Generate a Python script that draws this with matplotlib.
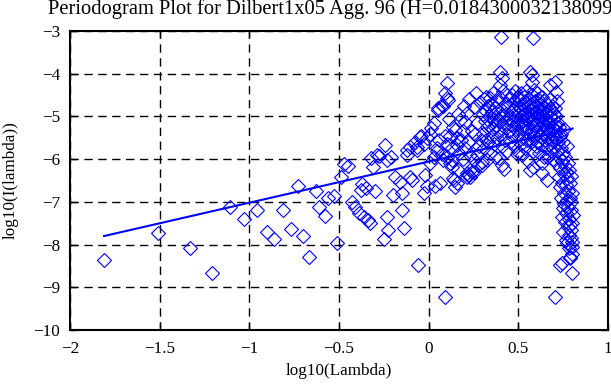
import matplotlib
matplotlib.use("Agg")
import matplotlib.pyplot as plt
import numpy as np

plt.rcParams["font.family"] = ["Liberation Serif", "DejaVu Serif"]
plt.rcParams["font.size"] = 12.3

# low frequencies (sparse)
x_low = [-1.81, -1.51, -1.33, -1.21, -1.11, -1.03, -0.96, -0.90, -0.86, -0.81,
         -0.77, -0.73, -0.70, -0.67, -0.63, -0.61, -0.58, -0.56, -0.53, -0.51,
         -0.49, -0.47, -0.45, -0.43, -0.41, -0.39, -0.38, -0.37, -0.36, -0.35,
         -0.34, -0.33, -0.32, -0.31]
y_low = [-8.35, -7.74, -8.07, -8.66, -7.11, -7.40, -7.19, -7.71, -7.88, -7.19,
         -7.64, -6.63, -7.80, -8.30, -6.75, -7.11, -7.33, -6.90, -6.86, -7.96,
         -6.43, -6.11, -6.16, -7.00, -7.11, -7.27, -6.72, -6.58, -7.36, -6.68,
         -7.43, -7.49, -5.98, -6.19]

# middle frequencies
x_mid = [-0.30, -0.29, -0.275, -0.25, -0.243, -0.234, -0.23, -0.225, -0.21, -0.197,
         -0.187, -0.16, -0.15, -0.15, -0.14, -0.122, -0.119, -0.104, -0.104, -0.095,
         -0.076, -0.067, -0.063, -0.057, -0.048, -0.044, -0.029, -0.026, -0.02, -0.011,
         -0.011, 0.008, 0.008, 0.015, 0.027, 0.03, 0.036, 0.045, 0.045, 0.049,
         0.054, 0.06, 0.064, 0.073, 0.073, 0.082, 0.082, 0.088, 0.091, 0.091,
         0.10, 0.101, 0.101, 0.101, 0.11, 0.115, 0.12, 0.12, 0.129, 0.13,
         0.13, 0.138, 0.138, 0.14, 0.147, 0.147, 0.157, 0.157, 0.16, 0.165,
         0.166, 0.17, 0.175, 0.18, 0.19, 0.19, 0.195, 0.20, 0.203, 0.212,
         0.212, 0.212, 0.22, 0.22, 0.225, 0.23, 0.23, 0.231, 0.24, 0.24,
         0.25, 0.25, 0.25, 0.26, 0.265, 0.27, 0.27, 0.277, 0.28, 0.287,
         0.29, 0.296, 0.296]
y_mid = [-6.74, -5.90, -5.93, -7.86, -5.67, -6.02, -7.35, -7.66, -5.96, -6.84,
         -6.43, -6.53, -6.79, -7.18, -7.62, -5.90, -5.79, -5.71, -6.41, -6.49,
         -5.60, -5.79, -5.72, -8.48, -5.49, -5.46, -6.79, -5.65, -6.37, -6.63,
         -5.51, -5.40, -6.10, -5.28, -5.94, -5.16, -6.63, -5.80, -5.75, -4.81,
         -4.85, -5.55, -6.57, -4.73, -5.87, -6.02, -4.76, -9.22, -5.47, -4.46,
         -5.65, -4.22, -4.58, -5.94, -4.62, -5.05, -5.47, -6.10, -6.18, -6.02,
         -5.75, -5.24, -6.45, -6.49, -5.32, -6.65, -5.67, -6.57, -5.50, -4.95,
         -6.26, -5.85, -5.08, -5.55, -5.35, -6.00, -4.75, -5.75, -5.12, -4.93,
         -6.33, -6.41, -6.37, -5.60, -4.60, -6.26, -5.90, -6.41, -6.29, -5.35,
         -4.77, -6.02, -6.29, -5.40, -4.45, -5.15, -5.90, -6.14, -5.70, -4.66,
         -5.55, -6.06, -6.14]

# high frequencies (dense cloud)
x_high = [0.300, 0.303, 0.306, 0.309, 0.312, 0.315, 0.318, 0.321, 0.324, 0.327,
          0.330, 0.333, 0.336, 0.339, 0.342, 0.345, 0.348, 0.351, 0.354, 0.357,
          0.360, 0.363, 0.366, 0.369, 0.372, 0.375, 0.378, 0.381, 0.384, 0.387,
          0.390, 0.393, 0.396, 0.398, 0.400, 0.402, 0.404, 0.406, 0.407, 0.409,
          0.410, 0.412, 0.415, 0.417, 0.420, 0.423, 0.426, 0.429, 0.432, 0.435,
          0.438, 0.441, 0.444, 0.447, 0.450, 0.453, 0.456, 0.459, 0.462, 0.465,
          0.468, 0.471, 0.474, 0.477, 0.480, 0.483, 0.486, 0.489, 0.491, 0.494,
          0.497, 0.500, 0.502, 0.504, 0.506, 0.508, 0.510, 0.512, 0.514, 0.516,
          0.518, 0.520, 0.522, 0.524, 0.526, 0.528, 0.530, 0.532, 0.534, 0.536,
          0.538, 0.540, 0.542, 0.544, 0.546, 0.548, 0.550, 0.552, 0.554, 0.556,
          0.558, 0.560, 0.562, 0.564, 0.566, 0.566, 0.568, 0.570, 0.572, 0.575,
          0.575, 0.576, 0.578, 0.579, 0.580, 0.582, 0.584, 0.584, 0.586, 0.588,
          0.590, 0.592, 0.594, 0.596, 0.598, 0.600, 0.602, 0.603, 0.605, 0.607,
          0.609, 0.611, 0.613, 0.615, 0.617, 0.619, 0.621, 0.623, 0.625, 0.627,
          0.629, 0.630, 0.631, 0.633, 0.635, 0.637, 0.639, 0.640, 0.642, 0.644,
          0.646, 0.648, 0.650, 0.652, 0.654, 0.656, 0.658, 0.660, 0.660, 0.662,
          0.664, 0.666, 0.668, 0.670, 0.672, 0.674, 0.676, 0.677, 0.679, 0.681,
          0.683, 0.685, 0.687, 0.689, 0.691, 0.693, 0.695, 0.697, 0.699, 0.701,
          0.703, 0.705, 0.705, 0.707, 0.709, 0.710, 0.712, 0.714, 0.716, 0.718,
          0.720]
y_high = [-4.95, -5.40, -4.60, -5.75, -5.10, -4.85, -5.55, -4.54, -6.02, -5.25,
          -4.75, -5.60, -5.00, -4.58, -5.85, -5.15, -4.70, -5.45, -4.90, -5.30,
          -4.45, -5.65, -5.05, -4.80, -5.95, -5.20, -4.65, -5.50, -4.95, -5.35,
          -5.98, -4.55, -5.10, -3.95, -4.26, -5.40, -3.13, -4.85, -4.11, -5.70,
          -6.14, -5.00, -4.40, -6.22, -5.25, -4.70, -5.55, -4.95, -5.15, -4.50,
          -5.80, -5.05, -4.75, -5.35, -4.60, -5.60, -4.90, -5.20, -4.50, -5.45,
          -4.85, -5.10, -4.65, -5.70, -5.00, -4.40, -5.30, -4.80, -5.87, -5.15,
          -4.55, -5.83, -4.95, -5.40, -4.60, -5.15, -4.80, -5.65, -5.00, -4.45,
          -5.30, -4.70, -5.90, -5.10, -4.85, -5.50, -4.55, -5.20, -4.95, -5.75,
          -4.65, -5.35, -5.05, -4.40, -5.55, -4.90, -5.25, -4.75, -6.05, -5.00,
          -4.60, -5.40, -4.85, -5.15, -3.95, -6.26, -4.70, -5.60, -4.95, -4.19,
          -4.03, -5.30, -4.50, -3.16, -5.80, -4.80, -5.10, -6.18, -4.37, -5.45,
          -4.90, -5.20, -4.65, -5.70, -5.00, -4.75, -5.35, -4.46, -5.60, -4.95,
          -5.15, -4.60, -5.85, -5.05, -4.80, -5.45, -5.25, -4.70, -5.65, -4.90,
          -5.10, -6.10, -6.33, -4.55, -5.40, -5.00, -4.85, -5.94, -5.20, -4.65,
          -5.55, -5.05, -4.80, -5.75, -5.30, -4.95, -5.50, -5.94, -6.49, -4.70,
          -5.15, -5.40, -4.90, -5.65, -5.10, -4.60, -5.35, -4.26, -5.00, -5.80,
          -4.85, -5.25, -5.55, -4.75, -5.05, -5.45, -6.00, -4.95, -5.30, -5.70,
          -4.80, -4.19, -5.20, -5.50, -6.10, -4.42, -5.00, -5.35, -4.65, -5.80,
          -5.15]

# highest frequencies (falling tail)
x_tail = [0.722, 0.724, 0.726, 0.728, 0.730, 0.731, 0.733, 0.734, 0.736, 0.738,
          0.740, 0.742, 0.742, 0.743, 0.745, 0.746, 0.748, 0.750, 0.751, 0.752,
          0.754, 0.755, 0.757, 0.758, 0.760, 0.761, 0.763, 0.764, 0.766, 0.767,
          0.769, 0.770, 0.771, 0.773, 0.774, 0.776, 0.777, 0.779, 0.780, 0.781,
          0.783, 0.784, 0.786, 0.787, 0.788, 0.789, 0.790, 0.791, 0.793, 0.794,
          0.795, 0.796, 0.797, 0.798, 0.799, 0.800, 0.800, 0.801, 0.802, 0.705]
y_tail = [-5.60, -6.41, -5.25, -5.95, -6.65, -5.45, -8.48, -6.20, -5.75, -6.90,
          -5.40, -7.35, -8.44, -6.05, -6.55, -5.60, -7.15, -5.85, -7.70, -6.35,
          -6.80, -5.30, -7.05, -6.15, -7.47, -5.95, -6.60, -7.90, -6.30, -7.25,
          -5.70, -6.96, -7.97, -6.45, -7.60, -6.10, -7.11, -6.75, -8.09, -7.40,
          -6.25, -7.78, -6.90, -7.55, -8.28, -6.55, -8.32, -7.20, -7.85, -6.40,
          -7.65, -7.00, -8.05, -8.66, -7.50, -6.80, -7.95, -8.21, -7.30, -9.22]

H = 0.0184300032138099
fit_intercept = -6.057

x_all = np.array(x_low + x_mid + x_high + x_tail)
y_all = np.array(y_low + y_mid + y_high + y_tail)

fig = plt.figure(figsize=(6.11, 3.85), dpi=100)
ax = fig.add_axes([0.1146, 0.1429, 0.8806, 0.7766])

ax.plot(x_all, y_all, linestyle="none", marker="D", markersize=7,
        markerfacecolor="none", markeredgecolor="blue", markeredgewidth=0.8)

fit_x = np.array([x_all.min(), x_all.max()])
fit_y = fit_intercept + (1 - 2 * H) * fit_x
ax.plot(fit_x, fit_y, color="blue", linewidth=1.5)

ax.set_xlim(-2, 1)
ax.set_ylim(-10, -3)
ax.set_xticks([-2, -1.5, -1, -0.5, 0, 0.5, 1])
ax.set_xticklabels(["\u22122", "\u22121.5", "\u22121", "\u22120.5", "0", "0.5", "1"])
ax.set_yticks(range(-10, -2))
ax.grid(True, color="black", linestyle=(0, (6, 4)), linewidth=1)
ax.set_axisbelow(True)
ax.tick_params(direction="in", top=True, right=True, length=5, width=1)
ax.tick_params(axis="x", pad=8)
ax.tick_params(axis="y", pad=7)
for s in ax.spines.values():
    s.set_linewidth(1.5)

ax.set_xlabel("log10(Lambda)", labelpad=4)
ax.set_ylabel("log10(I(lambda))", labelpad=11)
# the title is wider than the figure, as in the original, so its end is clipped
ax.set_title("Periodogram Plot for Dilbert1x05 Agg. 96 (H=%s)" % "0.01843000321380992", pad=12)

fig.savefig("out.png", dpi=100)
